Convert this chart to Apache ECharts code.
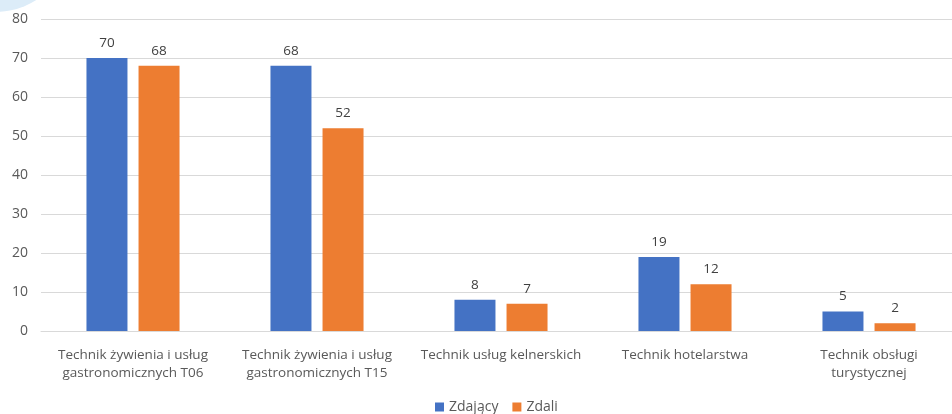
<!DOCTYPE html>
<html>
<head>
<meta charset="utf-8">
<script src="https://cdn.jsdelivr.net/npm/echarts@6/dist/echarts.min.js"></script>
<style>
  html, body { margin: 0; padding: 0; background: #fff; }
  #chart { width: 952px; height: 414px; }
</style>
</head>
<body>
<div id="chart"></div>
<script>
var categories = [
  'Technik żywienia i usług\ngastronomicznych T06',
  'Technik żywienia i usług\ngastronomicznych T15',
  'Technik usług kelnerskich',
  'Technik hotelarstwa',
  'Technik obsługi\nturystycznej'
];
var zdajacy = [70, 68, 8, 19, 5];
var zdali = [68, 52, 7, 12, 2];

var chart = echarts.init(document.getElementById('chart'));
var font = '"Open Sans", "Liberation Sans", sans-serif';

chart.setOption({
  animation: false,
  textStyle: { fontFamily: font },
  graphic: [{
    type: 'circle',
    shape: { cx: -5, cy: -65, r: 77 },
    style: { fill: '#dcecf8' },
    z: -1
  }],
  grid: { left: 41, right: -9, top: 19, bottom: 83, outerBoundsMode: 'none', containLabel: false },
  legend: {
    left: 430, bottom: -5,
    itemWidth: 9, itemHeight: 9, itemGap: 14,
    icon: 'rect',
    textStyle: { color: '#595959', fontSize: 14, fontFamily: font },
    data: ['Zdający', 'Zdali']
  },
  xAxis: {
    type: 'category',
    data: categories,
    axisLine: { lineStyle: { color: '#d9d9d9' } },
    axisTick: { show: false },
    axisLabel: { color: '#595959', fontSize: 13.5, lineHeight: 18, margin: 15, interval: 0 }
  },
  yAxis: {
    type: 'value',
    min: 0, max: 80, interval: 10,
    axisLine: { show: false },
    axisTick: { show: false },
    splitLine: { lineStyle: { color: '#d9d9d9' } },
    axisLabel: { color: '#595959', fontSize: 14, margin: 13 }
  },
  series: [{
    name: 'Zdający',
    type: 'bar',
    data: zdajacy,
    barWidth: 41,
    barGap: '27%',
    itemStyle: { color: '#4472c4' },
    label: { show: true, position: 'top', color: '#404040', fontSize: 13.5, distance: 8 }
  }, {
    name: 'Zdali',
    type: 'bar',
    data: zdali,
    barWidth: 41,
    itemStyle: { color: '#ed7d31' },
    label: { show: true, position: 'top', color: '#404040', fontSize: 13.5, distance: 8 }
  }]
});
</script>
</body>
</html>
